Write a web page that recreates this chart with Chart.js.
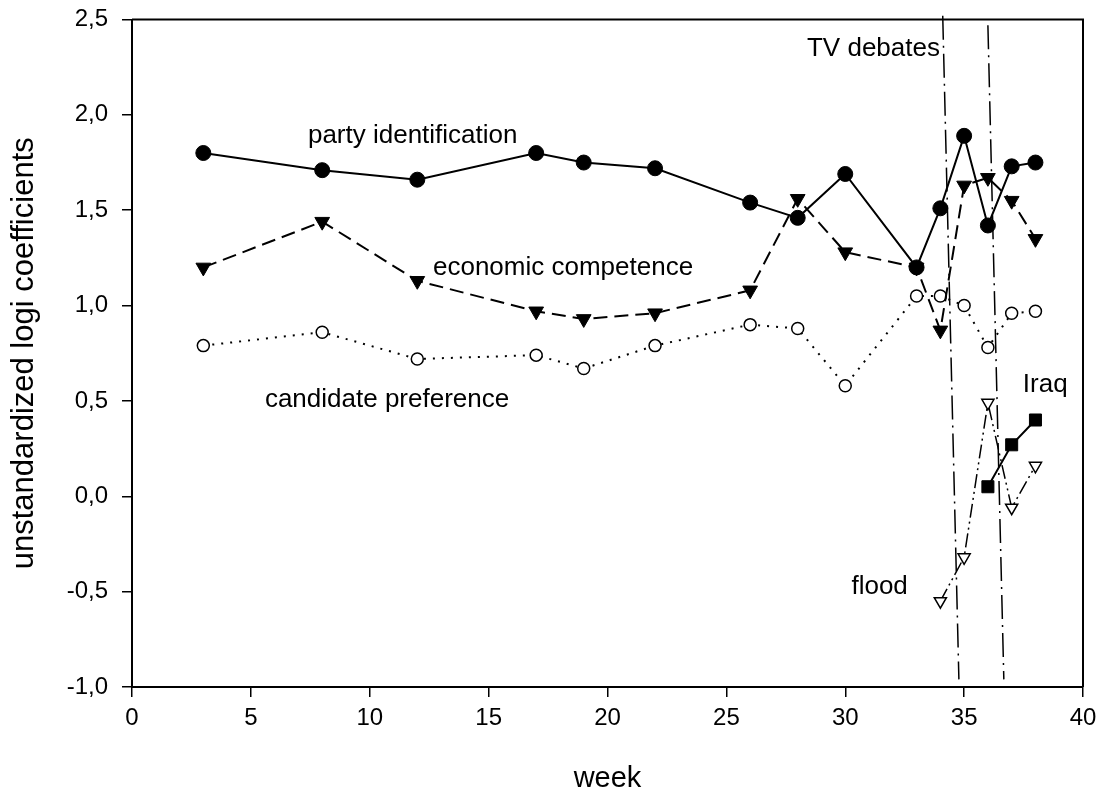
<!DOCTYPE html>
<html>
<head>
<meta charset="utf-8">
<script src="https://cdn.jsdelivr.net/npm/chart.js@4.4.1/dist/chart.umd.min.js"></script>
<style>
  html, body { margin: 0; padding: 0; background: #fff; }
</style>
</head>
<body>
<canvas id="chart" width="1105" height="796"></canvas>
<script>
// Semanas da pesquisa
const weeks = [3, 8, 12, 17, 19, 22, 26, 28, 30, 33, 34, 35, 36, 37, 38];
const partyIdentification = [1.80, 1.71, 1.66, 1.80, 1.75, 1.72, 1.54, 1.46, 1.69, 1.20, 1.51, 1.89, 1.42, 1.73, 1.75];
const economicCompetence = [1.20, 1.44, 1.13, 0.97, 0.93, 0.96, 1.08, 1.56, 1.28, 1.20, 0.87, 1.63, 1.67, 1.55, 1.35];
const candidatePreference = [0.79, 0.86, 0.72, 0.74, 0.67, 0.79, 0.90, 0.88, 0.58, 1.05, 1.05, 1.00, 0.78, 0.96, 0.97];

const floodWeeks = [34, 35, 36, 37, 38];
const flood = [-0.55, -0.32, 0.49, -0.06, 0.16];

const iraqWeeks = [36, 37, 38];
const iraq = [0.05, 0.27, 0.40];

// Linhas dos debates na TV (ligeiramente inclinadas)
const debate1X = [34.1, 34.78];
const debate1Y = [2.52, -0.96];
const debate2X = [36.0, 36.67];
const debate2Y = [2.47, -0.96];

// Rótulos no gráfico
const labelTexts = ["party identification", "economic competence", "candidate preference", "TV debates", "flood", "Iraq"];
const labelX = [7.4, 12.66, 5.59, 28.39, 30.26, 37.47];
const labelY = [1.85, 1.16, 0.47, 2.31, -0.51, 0.545];

const FONT = "'Liberation Sans', Arial, sans-serif";

function toPoints(xs, ys) {
  return xs.map((x, i) => ({ x: x, y: ys[i] }));
}

const framePlugin = {
  id: "frame",
  beforeDatasetsDraw(chart) {
    const { ctx, chartArea: a } = chart;
    ctx.save();
    ctx.strokeStyle = "#000";
    ctx.lineWidth = 2;
    ctx.beginPath();
    ctx.moveTo(a.left, a.top);
    ctx.lineTo(a.right, a.top);
    ctx.lineTo(a.right, a.bottom);
    ctx.stroke();
    ctx.restore();
  },
};

const labelsPlugin = {
  id: "textLabels",
  afterDatasetsDraw(chart) {
    const { ctx, scales } = chart;
    ctx.save();
    ctx.fillStyle = "#000";
    ctx.font = "26px " + FONT;
    ctx.textAlign = "left";
    ctx.textBaseline = "alphabetic";
    labelTexts.forEach((t, i) => {
      ctx.fillText(t, scales.x.getPixelForValue(labelX[i]), scales.y.getPixelForValue(labelY[i]));
    });
    ctx.restore();
  },
};

const ctx = document.getElementById("chart").getContext("2d");

new Chart(ctx, {
  type: "line",
  data: {
    datasets: [
      {
        label: "party identification",
        data: toPoints(weeks, partyIdentification),
        borderColor: "#000",
        borderWidth: 2,
        pointStyle: "circle",
        pointRadius: 7.5,
        pointBackgroundColor: "#000",
        pointBorderColor: "#000",
        pointBorderWidth: 1,
      },
      {
        label: "Iraq",
        data: toPoints(iraqWeeks, iraq),
        borderColor: "#000",
        borderWidth: 2,
        pointStyle: "rect",
        pointRadius: 8.5,
        pointBackgroundColor: "#000",
        pointBorderColor: "#000",
        pointBorderWidth: 1,
      },
      {
        label: "economic competence",
        data: toPoints(weeks, economicCompetence),
        borderColor: "#000",
        borderWidth: 2,
        borderDash: [14, 7],
        pointStyle: "triangle",
        pointRotation: 180,
        pointRadius: 8.5,
        pointBackgroundColor: "#000",
        pointBorderColor: "#000",
        pointBorderWidth: 1,
      },
      {
        label: "candidate preference",
        data: toPoints(weeks, candidatePreference),
        borderColor: "#000",
        borderWidth: 2,
        borderDash: [2, 7],
        pointStyle: "circle",
        pointRadius: 6,
        pointBackgroundColor: "#fff",
        pointBorderColor: "#000",
        pointBorderWidth: 1.5,
      },
      {
        label: "flood",
        data: toPoints(floodWeeks, flood),
        borderColor: "#000",
        borderWidth: 1.5,
        borderDash: [14, 4, 2, 4, 2, 4],
        pointStyle: "triangle",
        pointRotation: 180,
        pointRadius: 7,
        pointBackgroundColor: "#fff",
        pointBorderColor: "#000",
        pointBorderWidth: 1.5,
      },
      {
        label: "debate 1",
        data: toPoints(debate1X, debate1Y),
        borderColor: "#000",
        borderWidth: 1.5,
        borderDash: [24, 6, 2, 6],
        pointRadius: 0,
        clip: false,
      },
      {
        label: "debate 2",
        data: toPoints(debate2X, debate2Y),
        borderColor: "#000",
        borderWidth: 1.5,
        borderDash: [24, 6, 2, 6],
        pointRadius: 0,
        clip: false,
      },
    ],
  },
  options: {
    responsive: false,
    animation: false,
    events: [],
    layout: {
      padding: { top: 19.5, right: 22, left: 0, bottom: 0 },
    },
    plugins: {
      legend: { display: false },
      tooltip: { enabled: false },
    },
    scales: {
      x: {
        type: "linear",
        min: 0,
        max: 40,
        afterFit: (scale) => {
          scale.height = 109;
        },
        ticks: {
          stepSize: 5,
          color: "#000",
          padding: 7,
          maxRotation: 0,
          font: { family: FONT, size: 24 },
        },
        grid: {
          drawOnChartArea: false,
          drawTicks: true,
          tickLength: 10,
          color: "#000",
          lineWidth: 1.5,
        },
        border: { display: true, color: "#000", width: 2 },
        title: {
          display: true,
          text: "week",
          color: "#000",
          font: { family: FONT, size: 29 },
          padding: { top: 0, bottom: 0 },
        },
      },
      y: {
        min: -1,
        max: 2.5,
        afterFit: (scale) => {
          scale.width = 132;
          scale.paddingTop = 0;
          scale.paddingBottom = 0;
        },
        ticks: {
          stepSize: 0.5,
          color: "#000",
          padding: 14,
          font: { family: FONT, size: 24 },
          callback: (v) => v.toFixed(1).replace(".", ","),
        },
        grid: {
          drawOnChartArea: false,
          drawTicks: true,
          tickLength: 10,
          color: "#000",
          lineWidth: 1.5,
        },
        border: { display: true, color: "#000", width: 2 },
        title: {
          display: true,
          text: "unstandardized logi coefficients",
          color: "#000",
          font: { family: FONT, size: 31 },
          padding: { top: 6, bottom: 0 },
        },
      },
    },
  },
  plugins: [framePlugin, labelsPlugin],
});
</script>
</body>
</html>
